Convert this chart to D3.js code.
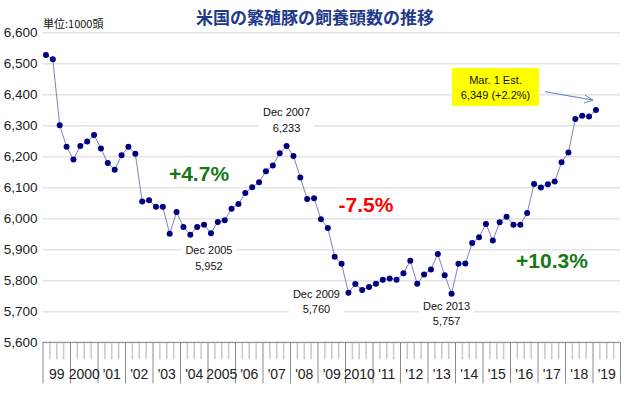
<!DOCTYPE html>
<html>
  <head>
    <meta charset="utf-8">
    <title>米国の繁殖豚の飼養頭数の推移</title>
    <script src="https://d3js.org/d3.v7.min.js"></script>
    <style>
      body { margin: 0; background: #fff; }
      svg { display: block; }
    </style>
  </head>
  <body>
    <svg width="630" height="393"></svg>
    <script>
    // quarterly breeding herd, Mar 1999 .. Mar 2019 (1000 head)
    var values = [6527, 6513, 6300, 6231, 6190, 6233, 6248, 6269, 6225, 6178,
                  6157, 6203, 6231, 6208, 6054, 6058, 6037, 6037, 5950, 6020,
                  5972, 5947, 5972, 5979, 5952, 5988, 5994, 6031, 6046, 6082,
                  6100, 6116, 6152, 6170, 6210, 6233, 6201, 6132, 6062, 6065,
                  5997, 5969, 5876, 5853, 5760, 5788, 5769, 5778, 5789, 5802,
                  5806, 5802, 5823, 5863, 5789, 5819, 5835, 5885, 5816, 5757,
                  5853, 5854, 5920, 5939, 5982, 5928, 5987, 6005, 5979, 5979,
                  6017, 6111, 6099, 6110, 6119, 6181, 6212, 6320, 6331, 6328, 6349];
    var yearLabels = ["99", "2000", "'01", "'02", "'03", "'04", "2005", "'06", "'07", "'08",
                      "'09", "2010", "'11", "'12", "'13", "'14", "'15", "'16", "'17", "'18", "'19"];
    var yTicks = [5600, 5700, 5800, 5900, 6000, 6100, 6200, 6300, 6400, 6500, 6600];
    // labelled points: quarter index and label text
    var callouts = [
      {i: 24, label: "Dec 2005", dx: -2, dy: 21},
      {i: 35, label: "Dec 2007", dx: 0, dy: -30},
      {i: 44, label: "Dec 2009", dx: -32, dy: 5},
      {i: 59, label: "Dec 2013", dx: -5, dy: 16}
    ];
    var changes = [
      {text: "+4.7%", color: "#157a15", x: 199, y: 173},
      {text: "-7.5%", color: "#ff0000", x: 366, y: 204},
      {text: "+10.3%", color: "#157a15", x: 552, y: 260}
    ];

    var svg = d3.select("svg");
    var plotL = 42.5, plotR = 620, plotT = 32.3, plotB = 342.3;
    var nq = yearLabels.length * 4;

    var x = d3.scaleLinear().domain([0, nq]).range([plotL, plotR]);
    var y = d3.scaleLinear().domain([5600, 6600]).range([plotB, plotT]);
    var fmt = d3.format(",");

    // title
    svg.append("text")
      .attr("x", 315).attr("y", 24)
      .attr("text-anchor", "middle")
      .style("font-family", "'Noto Sans CJK JP'")
      .style("font-weight", "bold")
      .style("font-size", "17px")
      .style("fill", "#1f3a8c")
      .text("米国の繁殖豚の飼養頭数の推移");

    svg.append("text")
      .attr("x", 43).attr("y", 28)
      .style("font-family", "'Noto Sans CJK JP'")
      .style("font-size", "11px")
      .style("fill", "#111")
      .text("単位:1000頭");

    // y grid + labels
    var yAxis = svg.append("g")
      .attr("transform", "translate(" + plotL + ",0)")
      .call(d3.axisLeft(y).tickValues(yTicks).tickFormat(fmt)
        .tickSize(-(plotR - plotL)).tickPadding(5));
    yAxis.select(".domain").remove();
    yAxis.selectAll("line").attr("stroke", "#e3e3e3").attr("stroke-width", 1.5);
    yAxis.selectAll("text")
      .style("font-family", "'Liberation Sans Narrow', 'Liberation Sans', sans-serif")
      .style("font-size", "13.5px")
      .style("fill", "#222");

    // x axis: minor quarter ticks, year separators, year labels
    var minor = d3.range(0, nq + 1).filter(function(q) { return q % 4 != 0; });
    var xMinor = svg.append("g")
      .attr("transform", "translate(0," + plotB + ")")
      .call(d3.axisBottom(x).tickValues(minor).tickSize(17).tickFormat(""));
    xMinor.select(".domain").remove();
    xMinor.selectAll("line").attr("stroke", "#c8c8c8").attr("stroke-width", 1.5);

    var xMajor = svg.append("g")
      .attr("transform", "translate(0," + plotB + ")")
      .call(d3.axisBottom(x).tickValues(d3.range(0, nq + 1, 4)).tickSize(41).tickFormat(""));
    xMajor.select(".domain").attr("stroke", "#888").attr("d", "M" + plotL + ",0H" + plotR);
    xMajor.selectAll("line").attr("stroke", "#8a8a8a");

    var xLab = svg.append("g")
      .attr("transform", "translate(0," + plotB + ")")
      .call(d3.axisBottom(x)
        .tickValues(d3.range(2, nq, 4))
        .tickFormat(function(d) { return yearLabels[(d - 2) / 4]; })
        .tickSize(0).tickPadding(27));
    xLab.select(".domain").remove();
    xLab.selectAll("text")
      .style("font-family", "'Liberation Sans Narrow', 'Liberation Sans', sans-serif")
      .style("font-size", "14px")
      .style("fill", "#222");

    // series
    var line = d3.line()
      .x(function(d, i) { return x(i + 0.5); })
      .y(function(d) { return y(d); });
    svg.append("path")
      .datum(values)
      .attr("d", line)
      .attr("fill", "none")
      .attr("stroke", "#8080c8")
      .attr("stroke-width", 1);
    svg.append("g").selectAll("circle")
      .data(values)
      .enter().append("circle")
      .attr("cx", function(d, i) { return x(i + 0.5); })
      .attr("cy", function(d) { return y(d); })
      .attr("r", 3)
      .attr("fill", "#000080");

    // callouts with white backing
    callouts.forEach(function(c) {
      var cx = x(c.i + 0.5) + c.dx, cy = y(values[c.i]) + c.dy;
      var g = svg.append("g");
      var t = g.append("text")
        .attr("text-anchor", "middle")
        .style("font-family", "'Liberation Sans', sans-serif")
        .style("font-size", "11px")
        .style("fill", "#111");
      t.append("tspan").attr("x", cx).attr("y", cy).text(c.label);
      t.append("tspan").attr("x", cx).attr("y", cy + 15.5).text(fmt(values[c.i]));
      var b = t.node().getBBox();
      g.insert("rect", "text")
        .attr("x", b.x - 4).attr("y", b.y - 2)
        .attr("width", b.width + 8).attr("height", b.height + 4)
        .attr("fill", "#fff");
    });

    changes.forEach(function(c) {
      svg.append("text")
        .attr("x", c.x).attr("y", c.y + 7.5)
        .attr("text-anchor", "middle")
        .style("font-family", "'Liberation Sans', sans-serif")
        .style("font-weight", "bold")
        .style("font-size", "21px")
        .style("fill", c.color)
        .text(c.text);
    });

    // latest estimate box and arrow
    var last = values.length - 1;
    var prevYear = values[last - 4];
    var pct = (values[last] / prevYear - 1) * 100;
    svg.append("rect")
      .attr("x", 452).attr("y", 68).attr("width", 87).attr("height", 38)
      .attr("fill", "#ffff00");
    var est = svg.append("text")
      .attr("text-anchor", "middle")
      .style("font-family", "'Liberation Sans', sans-serif")
      .style("font-size", "11px")
      .style("fill", "#111");
    est.append("tspan").attr("x", 495.5).attr("y", 84).text("Mar. 1 Est.");
    est.append("tspan").attr("x", 495.5).attr("y", 98.5)
      .text(fmt(values[last]) + " (+" + pct.toFixed(1) + "%)");

    var ax = x(last + 0.5) - 3, ay = y(values[last]) - 10;
    svg.append("path")
      .attr("d", "M545,91.7L" + ax + "," + ay)
      .attr("stroke", "#5a7ec6").attr("stroke-width", 1).attr("fill", "none");
    svg.append("path")
      .attr("d", "M" + (ax - 8) + "," + (ay - 5) + "L" + ax + "," + ay + "L" + (ax - 9) + "," + (ay + 3))
      .attr("stroke", "#5a7ec6").attr("stroke-width", 1).attr("fill", "none");
    </script>
  </body>
</html>
